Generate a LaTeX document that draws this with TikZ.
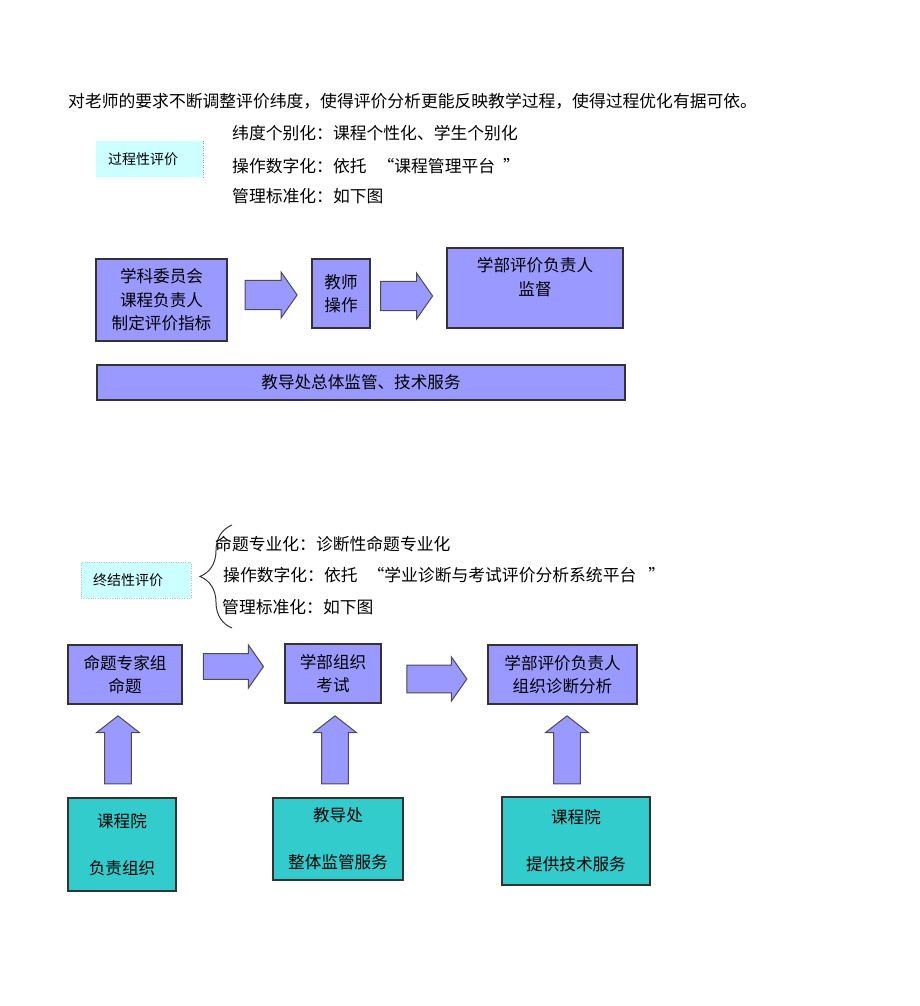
\documentclass[tikz,border=0pt]{standalone}
\usepackage{fontspec}
\setmainfont{Noto Sans CJK SC}
\usepackage{tikz}
\usepackage{xcolor}
\usetikzlibrary{positioning,shapes.arrows,decorations.pathreplacing}

\definecolor{boxblue}{HTML}{9999FF}
\definecolor{boxteal}{HTML}{33CCCC}
\definecolor{tagcyan}{HTML}{CCFFFF}

\begin{document}
\begin{tikzpicture}
[
x=1pt, y=-1pt,
box-flow/.style={rectangle, draw=black!80, line width=1.2pt, fill=boxblue, align=center, inner sep=0pt,
                 font=\fontsize{16.6}{23.5}\selectfont},
box-base/.style={box-flow, fill=boxteal},
box-tag/.style={rectangle, fill=tagcyan, align=left, inner xsep=12pt, inner ysep=0pt,
                minimum height=36pt, font=\fontsize{14}{16}\selectfont},
text-a/.style={anchor=west, inner sep=0pt, font=\fontsize{16.8}{19}\selectfont},
fat-arrow/.style={single arrow, draw=black!70, line width=1pt, fill=boxblue, inner sep=0pt,
                  text width=0pt, text depth=0pt, single arrow tip angle=110}
]
\useasboundingbox (0,0) rectangle (920,1006);

% intro line
\node (intro)   [text-a] at (68,101) {对老师的要求不断调整评价纬度，使得评价分析更能反映教学过程，使得过程优化有据可依。};

% process evaluation
\node (tag-1)   [box-tag, text width=83pt] at (149.5,159) {过程性评价};
\draw [dotted, black!40] (tag-1.north east) -- (tag-1.south east);
\node (item-11) [text-a] at (232,133) {纬度个别化：课程个性化、学生个别化};
\node (item-12) [text-a] at (232,166) {操作数字化：依托\hspace{11pt}“课程管理平台\hspace{8pt}”};
\node (item-13) [text-a] at (232,196) {管理标准化：如下图};

\node (box-1)   [box-flow, minimum width=131pt, minimum height=82pt] at (161.5,300) {学科委员会\\课程负责人\\制定评价指标};
\node (box-2)   [box-flow, minimum width=58pt,  minimum height=69pt] at (341,293.5) {教师\\操作};
\node (box-3)   [box-flow, minimum width=176pt, minimum height=80pt] at (535,288) {学部评价负责人\\监督\\ ~};
\node (bar-1)   [box-flow, minimum width=528pt, minimum height=35pt] at (361,382.5) {教导处总体监管、技术服务};
\node (arr-1)   [fat-arrow, text height=24pt, minimum width=46pt, minimum height=52pt] at (266,295) {};
\node (arr-2)   [fat-arrow, text height=24pt, minimum width=46pt, minimum height=52pt] at (401.5,296) {};

% summative evaluation
\node (tag-2)   [box-tag, text width=86pt, draw=black!25, dotted] at (136,580) {终结性评价};
\coordinate (brace-bot) at (232,628);
\coordinate (brace-top) at (232,525);
\draw [decorate, decoration={brace, amplitude=32pt, aspect=0.5}, line width=1pt, black!80] (brace-bot) -- (brace-top);
\node (item-21) [text-a] at (215,544) {命题专业化：诊断性命题专业化};
\node (item-22) [text-a] at (223,575) {操作数字化：依托\hspace{10pt}“学业诊断与考试评价分析系统平台\hspace{12pt}”};
\node (item-23) [text-a] at (222,607) {管理标准化：如下图};

\node (box-4)   [box-flow, minimum width=114pt, minimum height=59pt] at (125,674.5) {命题专家组\\命题};
\node (box-5)   [box-flow, minimum width=96pt,  minimum height=59pt] at (333,673.5) {学部组织\\考试};
\node (box-6)   [box-flow, minimum width=149pt, minimum height=59pt] at (562.5,674.5) {学部评价负责人\\组织诊断分析};
\node (arr-3)   [fat-arrow, text height=20pt, minimum width=43pt, minimum height=60pt] at (229,666.5) {};
\node (arr-4)   [fat-arrow, text height=23pt, minimum width=44pt, minimum height=60pt] at (432,679) {};

\node (base-1)  [box-base, minimum width=108pt, minimum height=93pt] at (122,844.5) {课程院\\ \\负责组织};
\node (base-2)  [box-base, minimum width=130pt, minimum height=82pt] at (338,839) {教导处\\ \\整体监管服务};
\node (base-3)  [box-base, minimum width=148pt, minimum height=88pt] at (576,841) {课程院\\ \\提供技术服务};
\node (up-1)    [fat-arrow, rotate=90, single arrow tip angle=104, text height=22pt, minimum width=43pt, minimum height=68pt] at (118,755) {};
\node (up-2)    [fat-arrow, rotate=90, single arrow tip angle=104, text height=22pt, minimum width=43pt, minimum height=68pt] at (335,755) {};
\node (up-3)    [fat-arrow, rotate=90, single arrow tip angle=104, text height=22pt, minimum width=43pt, minimum height=68pt] at (567,755) {};

\end{tikzpicture}
\end{document}
